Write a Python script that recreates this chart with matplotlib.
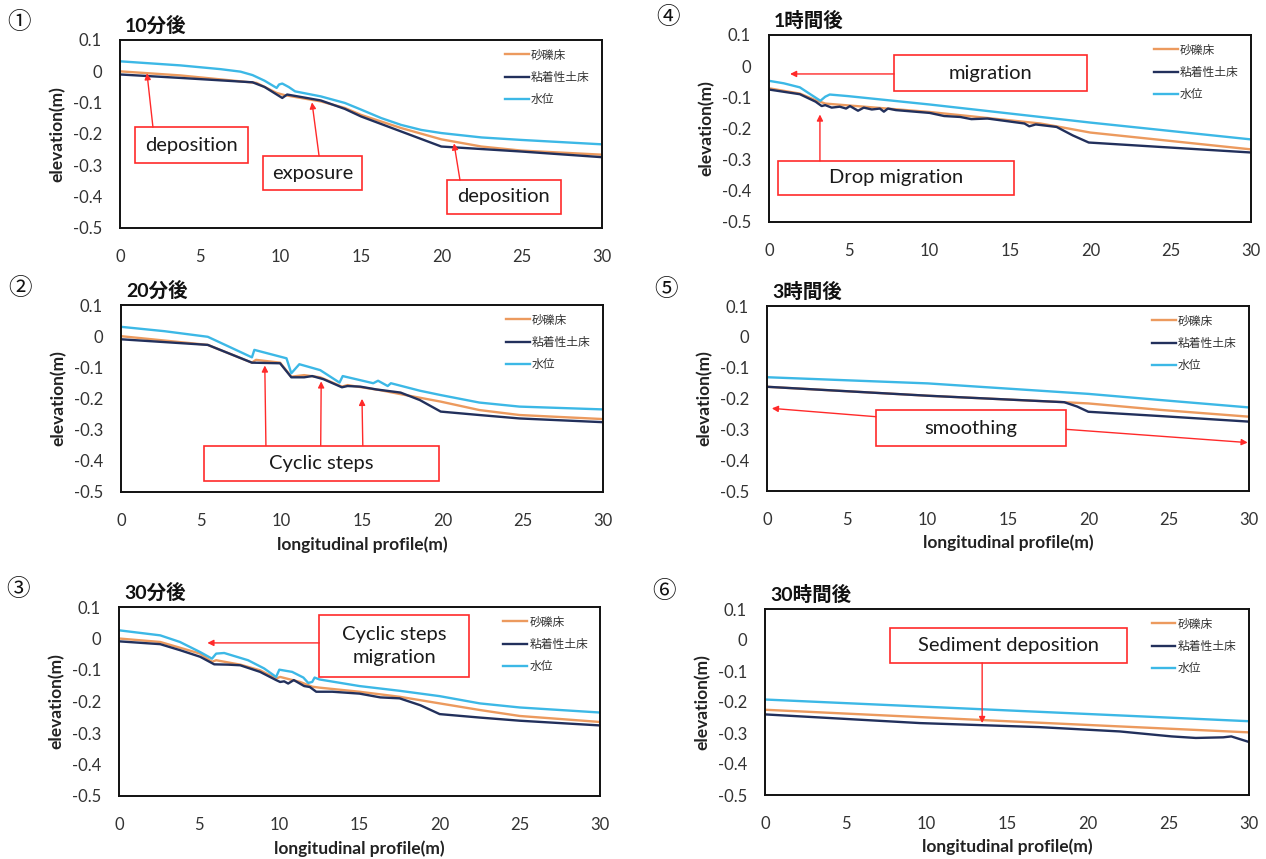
import matplotlib
matplotlib.use("Agg")
import matplotlib.pyplot as plt
from matplotlib.patches import Rectangle

plt.rcParams['font.family'] = ['Lato', 'Noto Sans CJK JP', 'DejaVu Sans']

W, H = 1266, 859

SERIES_NAMES = ["砂礫床", "粘着性土床", "水位"]
X_TICKS = [0, 5, 10, 15, 20, 25, 30]
Y_TICKS = [-0.5, -0.4, -0.3, -0.2, -0.1, 0.0, 0.1]
Y_TICK_LABELS = ["-0.5", "-0.4", "-0.3", "-0.2", "-0.1", "0", "0.1"]

# ① 10分後
p1_sand_x = [0, 3.75, 7.5, 8.5, 9.75, 10.25, 12.5, 14, 15, 17.5, 20, 22.5, 25, 30]
p1_sand_y = [0.0, -0.013, -0.032, -0.037, -0.069, -0.076, -0.096, -0.117, -0.139, -0.181, -0.217, -0.240, -0.253, -0.266]
p1_clay_x = [0, 3.75, 8.25, 9, 10.1, 10.4, 12.5, 14, 15, 17.5, 20, 22.5, 25, 30]
p1_clay_y = [-0.010, -0.021, -0.035, -0.050, -0.085, -0.074, -0.093, -0.120, -0.144, -0.192, -0.240, -0.248, -0.256, -0.274]
p1_water_x = [0, 3.75, 6.25, 7.5, 8.25, 9.0, 9.75, 9.9, 10.1, 10.5, 10.9, 12.5, 14, 15, 16.25, 17.5, 18.75, 20, 22.5, 25, 30]
p1_water_y = [0.032, 0.019, 0.007, -0.001, -0.012, -0.030, -0.053, -0.042, -0.039, -0.050, -0.064, -0.080, -0.101,
              -0.122, -0.149, -0.171, -0.187, -0.197, -0.211, -0.219, -0.233]

# ② 20分後
p2_sand_x = [0, 5.4, 8.15, 8.4, 9.9, 10.6, 11.4, 12.4, 13.75, 14.1, 16.1, 17.4, 19.9, 22.3, 24.8, 30]
p2_sand_y = [0.0, -0.028, -0.085, -0.076, -0.085, -0.130, -0.125, -0.132, -0.162, -0.157, -0.173, -0.186, -0.210,
             -0.237, -0.253, -0.266]
p2_clay_x = [0, 5.4, 8.15, 9.9, 10.4, 10.6, 11.4, 11.9, 12.6, 13.75, 14.1, 14.9, 15.9, 17.4, 18.6, 19.9, 22.3, 24.8, 30]
p2_clay_y = [-0.010, -0.028, -0.085, -0.087, -0.119, -0.132, -0.132, -0.128, -0.138, -0.164, -0.160, -0.162, -0.171,
             -0.181, -0.205, -0.242, -0.253, -0.264, -0.276]
p2_water_x = [0, 2.7, 5.4, 8.15, 8.3, 10.3, 10.6, 11.1, 12.4, 13.6, 13.8, 15.7, 16.0, 16.6, 16.8, 18.6, 19.9, 22.3, 24.8, 30]
p2_water_y = [0.030, 0.016, -0.002, -0.068, -0.044, -0.071, -0.119, -0.090, -0.109, -0.149, -0.128, -0.151, -0.143,
              -0.160, -0.151, -0.175, -0.189, -0.213, -0.226, -0.235]

# ③ 30分後
p3_sand_x = [0, 2.57, 5.06, 5.8, 6.06, 7.56, 8.8, 9.8, 10.05, 11.3, 12.05, 12.5, 15, 17.5, 20, 22.5, 25, 30]
p3_sand_y = [0.0, -0.011, -0.048, -0.074, -0.069, -0.083, -0.101, -0.127, -0.122, -0.138, -0.153, -0.156, -0.169,
             -0.185, -0.206, -0.227, -0.246, -0.265]
p3_clay_x = [0, 2.57, 3.8, 5.06, 5.94, 6.8, 7.56, 8.8, 9.8, 10.05, 10.3, 10.55, 10.9, 11.55, 11.9, 12.3, 13.3, 15,
             16.3, 17.5, 18.8, 20, 22.5, 25, 30]
p3_clay_y = [-0.009, -0.018, -0.037, -0.058, -0.082, -0.083, -0.085, -0.106, -0.132, -0.138, -0.136, -0.143, -0.132,
             -0.151, -0.154, -0.169, -0.169, -0.175, -0.187, -0.190, -0.212, -0.240, -0.251, -0.261, -0.276]
p3_water_x = [0, 2.57, 3.8, 5.06, 5.8, 6.06, 6.56, 8.05, 9.05, 9.8, 10.0, 10.8, 11.5, 11.8, 12.05, 12.2, 12.5, 15,
              17.5, 20, 22.5, 25, 30]
p3_water_y = [0.026, 0.010, -0.011, -0.043, -0.064, -0.048, -0.046, -0.069, -0.095, -0.122, -0.099, -0.106, -0.124,
              -0.141, -0.138, -0.124, -0.130, -0.151, -0.166, -0.183, -0.206, -0.219, -0.235]

# ④ 1時間後
p4_sand_x = [0, 1.92, 2.9, 3.5, 10, 16.9, 18.1, 20, 30]
p4_sand_y = [-0.071, -0.088, -0.109, -0.120, -0.147, -0.184, -0.195, -0.213, -0.267]
p4_clay_x = [0, 1.92, 2.9, 3.28, 3.5, 3.9, 4.4, 4.8, 5.04, 5.54, 5.9, 6.4, 6.9, 7.15, 7.4, 7.9, 10, 10.9, 11.9,
             12.6, 13.6, 15.9, 16.2, 16.6, 17.9, 18.9, 19.9, 24.3, 30]
p4_clay_y = [-0.075, -0.090, -0.114, -0.128, -0.125, -0.133, -0.130, -0.136, -0.128, -0.143, -0.133, -0.139, -0.136,
             -0.146, -0.136, -0.141, -0.150, -0.160, -0.163, -0.170, -0.168, -0.184, -0.193, -0.187, -0.195, -0.222,
             -0.245, -0.259, -0.277]
p4_water_x = [0, 0.92, 1.92, 2.66, 3.2, 3.5, 3.78, 4.9, 10, 16.9, 20, 30]
p4_water_y = [-0.047, -0.055, -0.068, -0.093, -0.111, -0.098, -0.091, -0.096, -0.123, -0.163, -0.181, -0.235]

# ⑤ 3時間後
p5_sand_x = [0, 10, 18.5, 20, 24.5, 30]
p5_sand_y = [-0.162, -0.191, -0.212, -0.216, -0.237, -0.259]
p5_clay_x = [0, 10, 18.5, 19.3, 20, 24.5, 30]
p5_clay_y = [-0.162, -0.191, -0.212, -0.226, -0.243, -0.257, -0.275]
p5_water_x = [0, 10, 20, 24.5, 30]
p5_water_y = [-0.131, -0.151, -0.185, -0.205, -0.229]

# ⑥ 30時間後
p6_sand_x = [0, 15, 30]
p6_sand_y = [-0.225, -0.262, -0.298]
p6_clay_x = [0, 9.6, 17, 22, 25.2, 26.7, 28.4, 28.9, 30]
p6_clay_y = [-0.240, -0.268, -0.281, -0.295, -0.311, -0.316, -0.314, -0.311, -0.329]
p6_water_x = [0, 15, 30]
p6_water_y = [-0.192, -0.227, -0.262]

COLORS = ['#EC9A5E', '#22305C', '#3CB8E6']
RED = '#FF2A2A'
TICK_COLOR = '#333333'


def px_rect(l, r, t, b):
    return [l / W, 1 - b / H, (r - l) / W, (b - t) / H]


def draw_panel(ax, num, title, series, xlabel):
    for (xs, ys), c, name in zip(series, COLORS, SERIES_NAMES):
        ax.plot(xs, ys, color=c, lw=1.7, label=name, solid_joinstyle='round')
    ax.set_xlim(0, 30)
    ax.set_ylim(-0.5, 0.1)
    ax.set_xticks(X_TICKS)
    ax.set_yticks(Y_TICKS)
    ax.set_yticklabels(Y_TICK_LABELS)
    ax.tick_params(length=0, labelsize=12, labelcolor=TICK_COLOR)
    ax.tick_params(axis='x', pad=15)
    ax.tick_params(axis='y', pad=13)
    for s in ax.spines.values():
        s.set_linewidth(1.4)
        s.set_color('#111111')
    ax.set_ylabel("elevation(m)", fontsize=12.5, fontweight='bold', color='#222222', va='center')
    ax.yaxis.set_label_coords(-0.129, 0.5)
    if xlabel:
        ax.set_xlabel("longitudinal profile(m)", fontsize=12.5, fontweight='bold', color='#222222', va='center')
        ax.xaxis.set_label_coords(0.5, -0.28)
    ax.annotate(title, xy=(0, 1), xycoords='axes fraction', xytext=(5, 15),
                textcoords='offset pixels', ha='left', va='center',
                fontsize=14, fontweight='bold', color='#111111')
    ax.annotate(num, xy=(0, 1), xycoords='axes fraction', xytext=(-101, 17),
                textcoords='offset pixels', ha='center', va='center',
                fontsize=17, family=['Noto Sans CJK JP'], color='#111111')
    leg = ax.legend(loc='upper left', bbox_to_anchor=(0.799, 0.95), frameon=False,
                    fontsize=8.5, handlelength=2.0, handletextpad=0.2,
                    labelspacing=0.95, borderpad=0, borderaxespad=0)
    for t in leg.get_texts():
        t.set_color('#333333')


def box(ax, x0, x1, y0, y1, text, ls=1.2):
    ax.add_patch(Rectangle((x0, y1), x1 - x0, y0 - y1, facecolor='white',
                           edgecolor=RED, lw=1.2, zorder=5))
    ax.text((x0 + x1) / 2, (y0 + y1) / 2, text, ha='center', va='center',
            fontsize=14.5, color='#1a1a1a', zorder=6, linespacing=ls)


def arrow(ax, x0, y0, x1, y1):
    ax.annotate('', xy=(x1, y1), xytext=(x0, y0),
                arrowprops=dict(arrowstyle='-|>', color=RED, lw=1.0,
                                mutation_scale=9, shrinkA=0, shrinkB=0),
                zorder=6)


fig = plt.figure(figsize=(W / 100, H / 100), dpi=100)

ax1 = fig.add_axes(px_rect(120, 602, 40, 228))
ax2 = fig.add_axes(px_rect(121, 603, 305, 492))
ax3 = fig.add_axes(px_rect(119, 600, 607, 796))
ax4 = fig.add_axes(px_rect(769, 1251, 35, 222))
ax5 = fig.add_axes(px_rect(767, 1249, 306, 491))
ax6 = fig.add_axes(px_rect(765, 1249, 609, 795))

draw_panel(ax1, "①", "10分後",
           [(p1_sand_x, p1_sand_y), (p1_clay_x, p1_clay_y), (p1_water_x, p1_water_y)], False)
draw_panel(ax2, "②", "20分後",
           [(p2_sand_x, p2_sand_y), (p2_clay_x, p2_clay_y), (p2_water_x, p2_water_y)], True)
draw_panel(ax3, "③", "30分後",
           [(p3_sand_x, p3_sand_y), (p3_clay_x, p3_clay_y), (p3_water_x, p3_water_y)], True)
draw_panel(ax4, "④", "1時間後",
           [(p4_sand_x, p4_sand_y), (p4_clay_x, p4_clay_y), (p4_water_x, p4_water_y)], False)
draw_panel(ax5, "⑤", "3時間後",
           [(p5_sand_x, p5_sand_y), (p5_clay_x, p5_clay_y), (p5_water_x, p5_water_y)], True)
draw_panel(ax6, "⑥", "30時間後",
           [(p6_sand_x, p6_sand_y), (p6_clay_x, p6_clay_y), (p6_water_x, p6_water_y)], True)

# ① annotations
box(ax1, 0.93, 7.97, -0.178, -0.293, "deposition")
arrow(ax1, 2.05, -0.178, 1.68, -0.006)
box(ax1, 8.9, 15.06, -0.270, -0.379, "exposure")
arrow(ax1, 12.39, -0.270, 11.95, -0.099)
box(ax1, 20.35, 27.45, -0.347, -0.455, "deposition")
arrow(ax1, 21.16, -0.347, 20.79, -0.230)

# ② annotations
box(ax2, 5.17, 19.78, -0.351, -0.465, "Cyclic steps")
arrow(ax2, 9.02, -0.351, 8.95, -0.094)
arrow(ax2, 12.43, -0.351, 12.46, -0.145)
arrow(ax2, 15.05, -0.351, 15.0, -0.201)

# ③ annotations
box(ax3, 12.49, 21.82, 0.076, -0.122, "Cyclic steps\nmigration", ls=1.45)
arrow(ax3, 12.49, -0.014, 5.51, -0.014)

# ④ annotations
box(ax4, 7.78, 19.79, 0.036, -0.080, "migration")
arrow(ax4, 7.78, -0.025, 1.31, -0.025)
box(ax4, 0.56, 15.25, -0.304, -0.413, "Drop migration")
arrow(ax4, 3.17, -0.304, 3.17, -0.155)

# ⑤ annotations
box(ax5, 6.77, 18.62, -0.238, -0.354, "smoothing")
arrow(ax5, 6.77, -0.259, 0.3, -0.232)
arrow(ax5, 18.62, -0.300, 29.92, -0.343)

# ⑥ annotations
box(ax6, 7.76, 22.44, 0.038, -0.074, "Sediment deposition")
arrow(ax6, 13.46, -0.074, 13.46, -0.268)

fig.savefig("out.png", dpi=100, facecolor='white')
